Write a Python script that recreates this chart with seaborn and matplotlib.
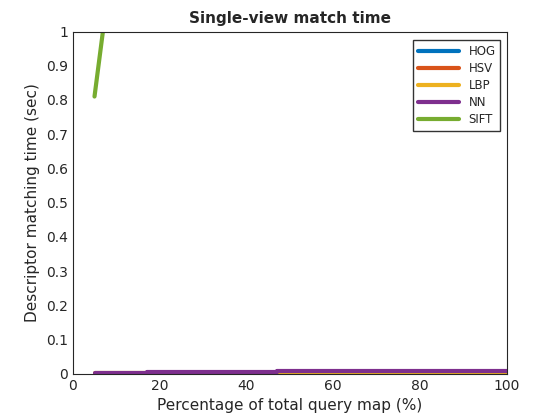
import matplotlib
matplotlib.use("Agg")
import matplotlib.pyplot as plt
import seaborn as sns
import pandas as pd

sns.set_style("white")
plt.rcParams['font.family'] = ['DejaVu Sans']

x = [5, 17, 35, 47, 70, 77, 100]
hog = [0.0005, 0.0008, 0.0010, 0.0012, 0.0015, 0.0018, 0.0020]
hsv = [0.0003, 0.0005, 0.0007, 0.0008, 0.0003, 0.0010, 0.0012]
lbp = [0.0010, 0.0015, 0.0020, 0.0025, 0.0030, 0.0040, 0.0045]
nn = [0.0035, 0.0055, 0.0055, 0.0075, 0.0075, 0.0095, 0.0095]
sift_x = [5, 10, 20]
sift_y = [0.81, 1.3, 2.3]

names = ["HOG", "HSV", "LBP", "NN", "SIFT"]
colors = ["#0072BD", "#D95319", "#EDB120", "#7E2F8E", "#77AC30"]

rows = []
for n, ys in zip(names[:4], [hog, hsv, lbp, nn]):
    for xi, yi in zip(x, ys):
        rows.append((n, xi, yi))
for xi, yi in zip(sift_x, sift_y):
    rows.append(("SIFT", xi, yi))
df = pd.DataFrame(rows, columns=["desc", "x", "y"])

fig, ax = plt.subplots(figsize=(5.6, 4.2), dpi=100)
for n, c in zip(names, colors):
    d = df[df.desc == n]
    if n == "SIFT":
        sns.lineplot(data=d, x="x", y="y", ax=ax, color=c, lw=3, label=n)
    else:
        ax.step(d.x, d.y, where="post", color=c, lw=3, label=n)

ax.set_xlim(0, 100)
ax.set_ylim(0, 1)
ax.set_xticks(range(0, 101, 20))
ax.set_yticks([i / 10 for i in range(11)])
ax.set_yticklabels(["0", "0.1", "0.2", "0.3", "0.4", "0.5", "0.6", "0.7", "0.8", "0.9", "1"])
ax.tick_params(direction="in", length=4, labelsize=10)
ax.set_xlabel("Percentage of total query map (%)", fontsize=11)
ax.set_ylabel("Descriptor matching time (sec)", fontsize=11)
ax.set_title("Single-view match time", fontsize=11, fontweight="bold")
for s in ax.spines.values():
    s.set_color("#262626")
    s.set_linewidth(0.8)
leg = ax.legend(loc="upper right", bbox_to_anchor=(0.985, 0.975), fontsize=8.5,
                frameon=True, fancybox=False, edgecolor="black", handlelength=3.5,
                borderpad=0.4, labelspacing=0.35, borderaxespad=0)
plt.subplots_adjust(left=0.13, right=0.905, top=0.925, bottom=0.11)
fig.savefig("out.png", dpi=100)
